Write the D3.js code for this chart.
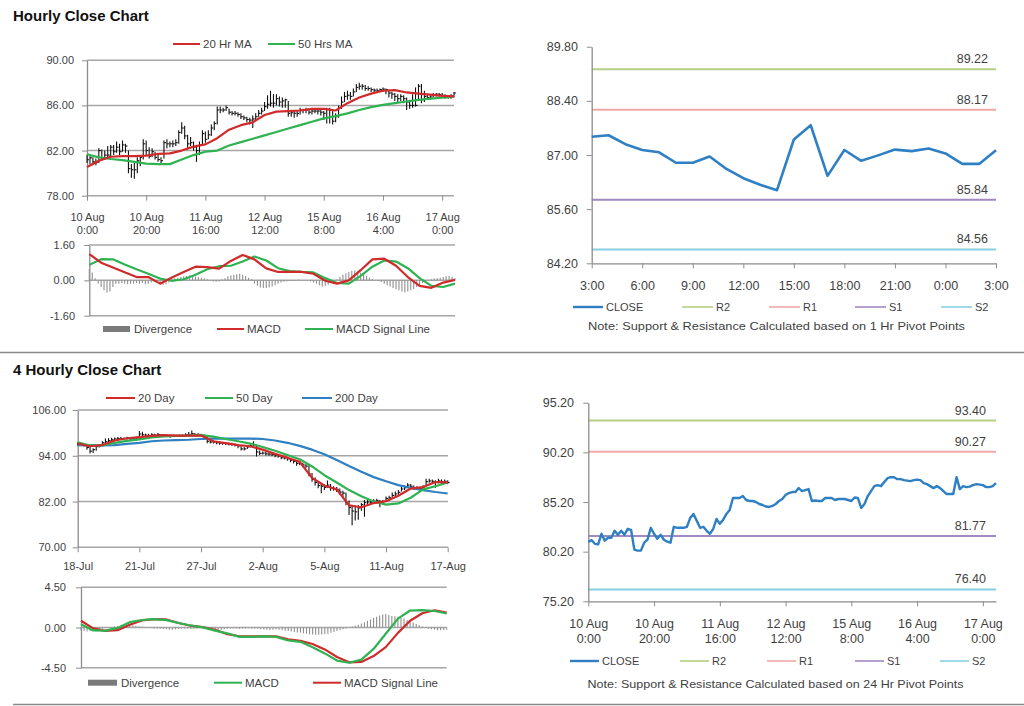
<!DOCTYPE html>
<html><head><meta charset="utf-8">
<script src="https://cdn.jsdelivr.net/npm/d3@7"></script>
<style>body{margin:0;background:#fff}svg{display:block;font-family:"Liberation Sans",Arial,sans-serif}</style>
</head><body><svg id="c" width="1024" height="706"></svg>
<script>
// ---------------- Hourly (10 Aug 0:00 -> 17 Aug 4:00) ----------------
const hourTicks = [0,20,40,60,80,100,120];
const hourTickLabels = [["10 Aug","0:00"],["10 Aug","20:00"],["11 Aug","16:00"],["12 Aug","12:00"],["15 Aug","8:00"],["16 Aug","4:00"],["17 Aug","0:00"]];
const hourClose = [81.19,81.36,81.0,80.93,82.0,81.3,81.6,81.6,82.3,81.9,
 82.3,81.9,82.5,82.4,80.4,80.3,80.3,81.1,81.4,82.6,
 82.0,81.5,81.9,81.4,81.2,81.1,82.7,82.6,82.6,82.6,
 82.7,83.6,84.0,83.3,82.6,82.7,82.3,82.0,82.5,83.5,
 83.0,83.4,84.0,84.4,85.6,85.6,85.6,85.8,85.4,85.3,
 85.3,85.2,85.0,84.9,84.75,84.7,84.8,85.0,85.3,85.5,
 85.9,86.1,86.2,86.2,86.6,86.3,86.4,86.5,85.3,85.35,
 85.3,85.3,85.6,85.6,85.6,85.4,85.5,85.5,85.5,85.4,
 85.3,85.65,85.6,84.6,85.0,85.8,86.3,86.8,86.9,86.8,
 87.2,87.6,87.7,87.7,87.5,87.5,87.4,87.35,87.3,87.4,
 87.45,87.4,87.1,87.0,86.8,86.6,86.8,86.6,86.3,86.0,
 86.0,86.0,87.7,86.5,86.8,86.7,86.75,86.9,87.0,86.95,
 86.9,86.7,86.7,86.8,87.1];
const hourHigh = [81.6,81.5,81.4,81.3,82.2,82.1,82.0,82.4,82.5,82.5,
 82.8,82.6,82.9,82.6,82.0,80.8,80.9,81.4,81.6,83.0,
 82.9,82.3,82.2,81.9,81.6,81.4,82.9,83.0,82.8,82.9,
 83.0,83.8,84.5,84.2,83.4,83.2,82.8,82.5,82.8,83.8,
 83.7,83.8,84.3,84.6,85.9,85.9,85.8,86.0,85.7,85.5,
 85.5,85.4,85.3,85.1,85.0,84.9,85.1,85.3,85.6,85.8,
 86.3,86.9,87.3,87.0,87.0,86.8,86.7,86.6,86.4,85.6,
 85.6,85.5,85.8,85.7,85.8,85.7,85.7,85.7,85.6,85.6,
 85.5,85.8,85.8,85.5,85.3,86.0,86.8,87.2,87.3,87.2,
 87.5,87.9,88.0,87.9,87.8,87.7,87.6,87.5,87.5,87.5,
 87.6,87.5,87.4,87.2,87.1,87.0,87.0,86.9,86.7,86.5,
 87.0,87.6,87.9,87.9,87.3,87.0,87.0,87.1,87.1,87.1,
 87.1,87.0,86.9,87.0,87.2];
const hourLow = [80.9,80.8,80.7,80.7,80.9,81.1,81.2,81.3,81.4,81.6,
 81.8,81.6,81.9,81.8,80.0,79.6,79.5,80.0,80.6,81.2,
 81.6,81.3,81.4,81.2,81.0,80.9,81.3,82.2,82.3,82.3,
 82.4,82.6,83.5,83.0,82.2,82.4,82.0,81.0,81.6,82.4,
 82.7,83.0,83.3,83.8,84.3,85.3,85.4,85.5,85.2,85.1,
 85.1,85.0,84.8,84.7,84.5,84.3,84.0,84.7,85.0,85.2,
 85.5,85.7,85.9,85.8,86.0,85.9,85.8,85.8,85.0,85.0,
 84.9,85.0,85.2,85.3,85.3,85.2,85.2,85.3,85.2,85.1,
 84.7,84.4,84.4,84.3,84.5,84.9,85.7,86.3,86.5,86.5,
 86.8,87.2,87.4,87.4,87.3,87.3,87.2,87.2,87.1,87.2,
 87.2,87.0,86.7,86.6,86.4,86.3,86.4,86.2,85.6,85.7,
 85.8,85.9,86.4,86.2,86.3,86.5,86.5,86.7,86.8,86.8,
 86.7,86.6,86.6,86.6,86.7];
const hourLineIdx = [0,4,8,12,16,20,24,28,32,36,40,44,48,52,56,60,64,68,72,76,80,84,88,92,96,100,104,108,112,116,120,124];
const hourMA20 = [80.55,81.1,81.45,81.5,81.5,81.55,81.7,81.75,82.0,82.35,82.55,83.1,83.85,84.25,84.5,85.15,85.45,85.5,85.55,85.7,85.7,85.55,86.2,86.7,87.05,87.3,87.35,87.15,87.05,86.95,86.85,86.8];
const hourMA50 = [81.67,81.4,81.25,81.15,81.0,80.85,80.8,80.8,81.2,81.6,81.9,82.0,82.45,82.75,83.05,83.35,83.65,83.95,84.25,84.55,84.85,85.05,85.3,85.6,85.85,86.05,86.2,86.35,86.5,86.6,86.7,86.8];
const hourMACD = [1.19,0.80,0.58,0.37,0.15,0.15,-0.15,0.13,0.38,0.62,0.60,0.53,0.88,1.15,0.95,0.54,0.38,0.38,0.38,0.30,-0.02,-0.15,0.00,0.46,0.95,0.98,0.66,0.15,-0.25,-0.34,-0.10,0.02];
const hourSignal = [0.70,0.96,0.95,0.72,0.50,0.30,0.08,-0.02,0.05,0.25,0.50,0.64,0.66,0.85,1.08,0.90,0.55,0.42,0.38,0.36,0.10,-0.12,-0.15,0.20,0.62,0.90,0.85,0.55,0.10,-0.25,-0.30,-0.15];
const hourDiv = [0.50,0.35,0.10,-0.15,-0.30, -0.45,-0.55,-0.50,-0.30,-0.15,
 -0.15,-0.12,-0.15,-0.18,-0.15, -0.15,-0.12,-0.15,-0.12,-0.18,
 -0.15,-0.10,-0.08,-0.12,-0.15, -0.20,-0.18,-0.10,0.05,0.10,
 0.12,0.15,0.18,0.20,0.22, 0.20,0.18,0.15,0.12,0.10,
 0.05,-0.03,-0.05,-0.06,-0.05, 0.05,0.10,0.18,0.22,0.25,
 0.28,0.30,0.25,0.20,0.12, 0.05,-0.15,-0.25,-0.32,-0.35,
 -0.35,-0.32,-0.28,-0.22,-0.15, -0.10,-0.06,-0.04,-0.03,-0.02,
 0.02,0.03,0.02,0.01,-0.02, -0.05,-0.10,-0.15,-0.22,-0.28,
 -0.25,-0.20,-0.12,-0.05,0.05, 0.15,0.25,0.32,0.38,0.42,
 0.45,0.40,0.35,0.28,0.20, 0.12,0.06,0.02,-0.02,-0.08,
 -0.15,-0.22,-0.28,-0.35,-0.40, -0.45,-0.50,-0.55,-0.50,-0.45,
 -0.40,-0.30,-0.22,-0.12,-0.05, 0.02,0.05,0.08,0.10,0.12,
 0.15,0.18,0.20,0.15,0.10];

// ---------------- 4 Hourly (18 Jul -> 17 Aug) ----------------
const h4Ticks = [0,20,40,60,80,100,120];
const h4TickLabels = ["18-Jul","21-Jul","27-Jul","2-Aug","5-Aug","11-Aug","17-Aug"];
const h4Close = [97.0,97.0,96.8,96.2,95.2,95.6,96.4,96.8,97.4,97.7,
 98.0,98.2,98.4,98.5,98.5,98.5,98.6,98.4,98.6,98.4,
 99.7,99.5,99.4,99.3,99.5,99.4,99.6,99.3,99.2,99.3,
 99.1,99.3,99.2,99.3,99.2,99.5,99.6,99.8,99.5,99.6,
 99.4,99.0,97.8,97.6,97.6,97.4,97.3,97.3,97.2,97.1,
 97.0,96.8,96.6,95.8,95.8,96.3,96.6,96.8,95.0,94.6,
 94.7,94.5,94.4,94.3,94.0,93.9,93.5,93.4,93.2,92.8,
 92.5,92.0,92.0,91.6,91.3,89.2,87.8,87.0,86.2,86.0,
 85.7,86.3,85.6,85.4,85.2,84.5,84.2,81.8,80.4,79.5,
 79.3,80.3,81.2,81.7,81.9,81.8,82.1,82.2,81.8,82.0,
 82.8,83.0,83.6,84.0,84.4,85.3,85.6,86.3,86.0,85.6,
 85.5,85.4,85.8,87.2,87.4,87.3,87.0,87.4,87.2,87.3,
 87.0];
const h4High = [97.5,97.3,97.2,96.9,96.3,96.0,96.6,97.0,97.8,98.5,
 98.6,98.7,98.8,98.9,98.9,98.8,99.0,98.8,98.9,98.8,
 100.5,100.3,99.8,99.8,99.9,99.8,100.0,99.7,99.6,99.6,
 99.5,99.6,99.5,99.6,99.6,99.9,100.2,100.6,100.0,99.9,
 99.8,99.6,99.0,98.0,98.0,97.8,97.7,97.6,97.5,97.4,
 97.4,97.2,97.0,96.7,96.3,96.6,97.0,97.8,96.9,95.4,
 95.1,95.0,94.8,94.7,94.5,94.3,94.0,93.8,93.6,93.3,
 93.0,92.7,92.5,92.2,91.8,91.5,89.5,88.3,87.2,86.8,
 86.4,87.5,86.6,86.0,85.8,85.4,84.8,84.4,82.3,80.8,
 80.6,81.0,81.6,82.4,82.5,82.3,82.6,82.7,82.4,82.4,
 83.3,83.5,84.4,84.6,85.0,86.0,86.2,86.8,86.6,86.2,
 86.0,85.9,86.3,88.0,88.0,87.8,87.6,88.0,87.8,87.8,
 87.6];
const h4Low = [96.6,96.6,96.4,95.6,94.6,94.7,95.3,96.2,96.7,97.2,
 97.6,97.9,98.0,98.1,98.2,98.2,98.2,98.0,98.2,98.0,
 98.3,99.1,99.0,99.0,99.1,99.0,99.2,99.0,98.9,98.9,
 98.7,98.9,98.9,98.9,98.9,99.1,99.2,99.3,99.1,99.2,
 99.0,98.5,97.3,97.2,97.2,97.0,96.9,96.9,96.8,96.7,
 96.6,96.4,96.0,95.4,95.4,95.8,96.2,96.4,93.8,94.2,
 94.3,94.1,94.0,93.9,93.6,93.5,93.1,93.0,92.7,92.3,
 92.0,91.4,91.5,91.0,90.8,88.6,87.2,86.2,85.5,84.2,
 85.0,85.6,84.8,84.8,84.5,83.8,83.2,81.0,78.5,75.8,
 77.0,77.2,79.6,78.0,81.2,81.3,81.6,81.7,80.5,81.5,
 82.0,82.5,83.0,83.4,83.8,84.6,85.0,85.6,85.5,85.1,
 85.0,84.9,85.2,86.0,86.9,86.8,85.6,86.8,86.6,86.8,
 86.5];
const h4LineIdx = [0,4,8,12,16,20,24,28,32,36,40,44,48,52,56,60,64,68,72,76,80,84,88,92,96,100,104,108,112,116,120];
const h4MA20 = [97.2,96.5,96.8,98.0,98.6,98.9,99.2,99.4,99.3,99.3,99.3,97.8,97.3,96.8,96.5,95.6,94.5,93.5,92.4,88.2,86.2,85.2,81.0,80.5,81.6,82.1,83.5,85.4,85.8,87.1,87.0];
const h4MA50 = [97.5,96.7,96.7,97.4,97.9,98.3,98.8,99.1,99.2,99.3,99.4,99.0,98.4,97.8,97.2,96.3,95.3,94.2,93.1,91.2,88.9,87.0,85.0,83.4,82.0,81.2,81.5,83.0,85.2,86.0,87.0];
const h4MA200 = [96.8,96.7,96.7,96.8,97.1,97.4,97.8,98.0,98.1,98.2,98.4,98.5,98.5,98.5,98.5,98.4,98.0,97.4,96.6,95.6,94.4,92.9,91.3,89.8,88.4,87.3,86.3,85.6,85.0,84.5,84.1];
const h4MACD = [0.37,-0.33,-0.35,-0.05,0.60,0.84,0.93,0.82,0.50,0.22,0.02,-0.35,-0.65,-1.05,-1.05,-1.0,-1.05,-1.45,-1.60,-2.2,-2.9,-3.7,-3.95,-3.6,-2.4,-0.7,1.0,1.9,1.95,1.85,1.57];
const h4Signal = [0.75,-0.10,-0.37,-0.30,0.30,0.80,0.93,0.90,0.50,0.20,0.05,-0.25,-0.75,-0.98,-1.0,-1.0,-1.0,-1.32,-1.50,-1.85,-2.45,-3.3,-3.9,-3.85,-3.2,-2.2,-0.6,0.75,1.6,1.93,1.68];
const h4Div = [-0.35,-0.40,-0.45,-0.40,-0.35,-0.30,-0.25,-0.15,-0.05,0.0,
 0.05,0.10,0.15,0.20,0.25,0.30,0.30,0.25,0.20,0.15,
 0.10,0.05,0.0,-0.05,-0.10,-0.12,-0.15,-0.18,-0.20,-0.25,
 -0.25,-0.20,-0.15,-0.10,-0.10,-0.12,-0.15,-0.12,-0.10,-0.08,
 -0.05,-0.10,-0.20,-0.30,-0.35,-0.30,-0.25,-0.20,-0.15,-0.10,
 -0.08,-0.10,-0.15,-0.12,-0.10,-0.08,-0.10,-0.12,-0.15,-0.20,
 -0.22,-0.25,-0.28,-0.25,-0.20,-0.25,-0.30,-0.35,-0.40,-0.45,
 -0.50,-0.55,-0.60,-0.65,-0.70,-0.75,-0.78,-0.80,-0.80,-0.78,
 -0.75,-0.70,-0.60,-0.50,-0.40,-0.30,-0.20,-0.10,0.0,0.10,
 0.20,0.30,0.45,0.60,0.75,0.90,1.05,1.20,1.35,1.45,
 1.50,1.40,1.30,1.25,1.20,1.10,1.00,0.85,0.70,0.55,
 0.40,0.25,0.10,-0.05,-0.15,-0.20,-0.25,-0.30,-0.30,-0.28,
 -0.25];

// ---------------- 1 Hr pivot chart (3:00 -> 3:00) ----------------
const pivotHours = ["3:00","4:00","5:00","6:00","7:00","8:00","9:00","10:00","11:00","12:00","13:00","14:00","15:00","16:00","17:00","18:00","19:00","20:00","21:00","22:00","23:00","0:00","1:00","2:00","3:00"];
const pivotClose = [87.47,87.51,87.28,87.13,87.07,86.80,86.80,86.96,86.64,86.40,86.23,86.09,87.40,87.77,86.46,87.13,86.85,86.99,87.14,87.10,87.17,87.04,86.77,86.77,87.12];
const levelNames = ["R2","R1","S1","S2"];
const levels1h = [89.22,88.17,85.84,84.56];
const levels24h = [93.40,90.27,81.77,76.40];

// ---------------- drawing ----------------
const svg = d3.select("#c");
const GRID = "#a6a6a6", AXIS = "#8c8c8c", TXT = "#3f3f3f";
const RED = "#d02a2a", GREEN = "#2fb352", BLUE = "#2f7fc3";
const levelColors = ["#b4cf85","#efa9a7","#a189c2","#88cfe2"];
const fmt2 = d => d.toFixed(2);

function yAxis(g, y, xLeft, ticks, labelRight, fs) {
  const a = g.append("g").attr("transform", `translate(${xLeft},0)`)
    .call(d3.axisLeft(y).tickValues(ticks).tickSize(5).tickSizeOuter(0)
      .tickPadding(xLeft - labelRight - 5).tickFormat(fmt2));
  a.select(".domain").attr("stroke", AXIS).attr("stroke-width", 1.3);
  a.selectAll(".tick line").attr("stroke", AXIS);
  a.selectAll(".tick text").attr("fill", TXT).attr("font-size", fs).attr("font-family", "Liberation Sans, Arial, sans-serif");
}
function grid(g, y, ticks, x0, x1) {
  g.append("g").selectAll("line").data(ticks).join("line")
    .attr("x1", x0).attr("x2", x1).attr("y1", d => y(d)).attr("y2", d => y(d))
    .attr("stroke", GRID).attr("stroke-width", 1.5);
}
function xAxis(g, x, yPos, ticks, labels, fs, lineGap, firstDy, domain) {
  const a = g.append("g").attr("transform", `translate(0,${yPos})`)
    .call(d3.axisBottom(x).tickValues(ticks).tickSize(5).tickSizeOuter(0).tickFormat(""));
  a.select(".domain").attr("stroke", domain ? AXIS : "none").attr("stroke-width", 1.3);
  a.selectAll(".tick line").attr("stroke", AXIS);
  a.selectAll(".tick text").remove();
  a.selectAll(".tick").each(function(d, i) {
    const t = d3.select(this).append("text").attr("text-anchor", "middle")
      .attr("fill", TXT).attr("font-size", fs).attr("font-family", "Liberation Sans, Arial, sans-serif");
    const lines = Array.isArray(labels[i]) ? labels[i] : [labels[i]];
    lines.forEach((s, k) => t.append("tspan").attr("x", 0).attr("y", firstDy + k * lineGap).text(s));
  });
}
function legendLine(g, x, y, w, color, text, fs, sw) {
  g.append("line").attr("x1", x).attr("x2", x + w).attr("y1", y).attr("y2", y)
    .attr("stroke", color).attr("stroke-width", sw || 2);
  g.append("text").attr("x", x + w + 3).attr("y", y + fs * 0.36).attr("font-size", fs)
    .attr("fill", TXT).text(text);
}
function legendRect(g, x, y, w, text, fs) {
  g.append("rect").attr("x", x).attr("y", y - 3).attr("width", w).attr("height", 6).attr("fill", "#7a7a7a");
  g.append("text").attr("x", x + w + 4).attr("y", y + fs * 0.36).attr("font-size", fs)
    .attr("fill", TXT).text(text);
}
function ohlc(g, x, y, hi, lo, cl) {
  const b = g.append("g").attr("stroke", "#111").attr("stroke-width", 1.1);
  b.selectAll("line.v").data(cl).join("line").attr("class", "v")
    .attr("x1", (d, i) => x(i)).attr("x2", (d, i) => x(i))
    .attr("y1", (d, i) => y(hi[i])).attr("y2", (d, i) => y(lo[i]));
  b.selectAll("line.c").data(cl).join("line").attr("class", "c")
    .attr("x1", (d, i) => x(i)).attr("x2", (d, i) => x(i) + 2)
    .attr("y1", d => y(d)).attr("y2", d => y(d));
}
function seriesLine(g, x, y, idx, vals, color, w) {
  g.append("path").datum(idx.map((k, i) => [k, vals[i]]))
    .attr("fill", "none").attr("stroke", color).attr("stroke-width", w || 2.2)
    .attr("stroke-linejoin", "round")
    .attr("d", d3.line().x(d => x(d[0])).y(d => y(d[1])));
}
function divBars(g, x, y, vals) {
  g.append("g").selectAll("line").data(vals).join("line")
    .attr("x1", (d, i) => x(i)).attr("x2", (d, i) => x(i))
    .attr("y1", y(0)).attr("y2", d => y(d))
    .attr("stroke", "#8f8f8f").attr("stroke-width", 1.1);
}

// Titles
svg.append("text").attr("x", 13).attr("y", 21).attr("font-size", 15).attr("font-weight", "bold")
  .attr("fill", "#111").text("Hourly Close Chart");
svg.append("text").attr("x", 13).attr("y", 375).attr("font-size", 15).attr("font-weight", "bold")
  .attr("fill", "#111").text("4 Hourly Close Chart");
// separators
svg.append("line").attr("x1", 0).attr("x2", 1024).attr("y1", 352.5).attr("y2", 352.5).attr("stroke", "#8a8a8a").attr("stroke-width", 1.5);
svg.append("line").attr("x1", 13).attr("x2", 1024).attr("y1", 704.5).attr("y2", 704.5).attr("stroke", "#8a8a8a").attr("stroke-width", 1.5);

// ===== Panel A: hourly price =====
{
  const g = svg.append("g");
  const x = d3.scaleLinear().domain([0, 124]).range([87, 454]);
  const y = d3.scaleLinear().domain([78, 90]).range([195.7, 60.3]);
  const yt = [78, 82, 86, 90];
  grid(g, y, yt, 87, 454);
  yAxis(g, y, 87, yt, 74, 11);
  xAxis(g, x, 195.7, hourTicks, hourTickLabels, 11, 13, 25, false);
  ohlc(g, x, y, hourHigh, hourLow, hourClose);
  seriesLine(g, x, y, hourLineIdx, hourMA50, GREEN, 2.2);
  seriesLine(g, x, y, hourLineIdx, hourMA20, RED, 2.2);
  legendLine(g, 173, 44, 27, RED, "20 Hr MA", 11.5);
  legendLine(g, 268, 44, 27, GREEN, "50 Hrs MA", 11.5);
}
// ===== Panel B: hourly MACD =====
{
  const g = svg.append("g");
  const x = d3.scaleLinear().domain([0, 124]).range([89.3, 455]);
  const y = d3.scaleLinear().domain([-1.6, 1.6]).range([315.7, 245]);
  const yt = [-1.6, 0, 1.6];
  grid(g, y, yt, 89.3, 455);
  yAxis(g, y, 89.3, yt, 75, 11);
  divBars(g, x, y, hourDiv);
  seriesLine(g, x, y, hourLineIdx, hourSignal, GREEN, 2.2);
  seriesLine(g, x, y, hourLineIdx, hourMACD, RED, 2.2);
  legendRect(g, 103, 329, 27, "Divergence", 11.5);
  legendLine(g, 217, 329, 27, RED, "MACD", 11.5);
  legendLine(g, 305, 329, 28, GREEN, "MACD  Signal Line", 11.5);
}
// ===== Panel C: 1 Hr pivot =====
{
  const g = svg.append("g");
  const x = d3.scaleLinear().domain([0, 24]).range([591.7, 996]);
  const y = d3.scaleLinear().domain([84.2, 89.8]).range([263.3, 46.7]);
  const yt = [84.2, 85.6, 87.0, 88.4, 89.8];
  levels1h.forEach((v, i) => {
    g.append("line").attr("x1", 591.7).attr("x2", 996).attr("y1", y(v)).attr("y2", y(v))
      .attr("stroke", levelColors[i]).attr("stroke-width", 2);
    g.append("text").attr("x", 988).attr("y", y(v) - 6).attr("text-anchor", "end")
      .attr("font-size", 12.5).attr("fill", TXT).text(v.toFixed(2));
  });
  yAxis(g, y, 591.7, yt, 578, 12.5);
  xAxis(g, x, 263.3, d3.range(0, 25, 3), d3.range(0, 25, 3).map(i => pivotHours[i]), 12.5, 14, 27, true);
  seriesLine(g, x, y, d3.range(25), pivotClose, BLUE, 2.6);
  legendLine(g, 573, 307, 30, BLUE, "CLOSE", 11, 2.4);
  levelNames.forEach((n, i) => legendLine(g, [682, 769, 855, 941][i], 307, 31, levelColors[i], n, 11, 1.6));
  g.append("text").attr("x", 588).attr("y", 330).attr("font-size", 11.5).attr("fill", TXT)
    .attr("textLength", 377).attr("lengthAdjust", "spacingAndGlyphs")
    .text("Note: Support & Resistance Calculated based on 1 Hr Pivot Points");
}
// ===== Panel D: 4 hourly price =====
{
  const g = svg.append("g");
  const x = d3.scaleLinear().domain([0, 120]).range([77.7, 447.7]);
  const y = d3.scaleLinear().domain([70, 106]).range([547.3, 410]);
  const yt = [70, 82, 94, 106];
  grid(g, y, yt, 77.7, 448);
  yAxis(g, y, 77.7, yt, 66, 11);
  xAxis(g, x, 547.3, h4Ticks, h4TickLabels, 11, 13, 23, false);
  ohlc(g, x, y, h4High, h4Low, h4Close);
  seriesLine(g, x, y, h4LineIdx, h4MA200, BLUE, 2.2);
  seriesLine(g, x, y, h4LineIdx, h4MA50, GREEN, 2.2);
  seriesLine(g, x, y, h4LineIdx, h4MA20, RED, 2.2);
  legendLine(g, 106, 398, 29, RED, "20 Day", 11.5);
  legendLine(g, 205, 398, 28, GREEN, "50 Day", 11.5);
  legendLine(g, 302, 398, 30, BLUE, "200 Day", 11.5);
}
// ===== Panel E: 4 hourly MACD =====
{
  const g = svg.append("g");
  const x = d3.scaleLinear().domain([0, 120]).range([81, 446.7]);
  const y = d3.scaleLinear().domain([-4.5, 4.5]).range([667.7, 587.3]);
  const yt = [-4.5, 0, 4.5];
  grid(g, y, yt, 81, 446.7);
  yAxis(g, y, 81, yt, 66, 11);
  divBars(g, x, y, h4Div);
  seriesLine(g, x, y, h4LineIdx, h4Signal, RED, 2.2);
  seriesLine(g, x, y, h4LineIdx, h4MACD, GREEN, 2.2);
  legendRect(g, 88, 682.7, 29, "Divergence", 11.5);
  legendLine(g, 214, 682.7, 28, GREEN, "MACD", 11.5);
  legendLine(g, 313, 682.7, 28, RED, "MACD  Signal Line", 11.5);
}
// ===== Panel F: 24 Hr pivot =====
{
  const g = svg.append("g");
  const x = d3.scaleLinear().domain([0, 124]).range([588.3, 996]);
  const y = d3.scaleLinear().domain([75.2, 95.2]).range([601.3, 402.7]);
  const yt = [75.2, 80.2, 85.2, 90.2, 95.2];
  levels24h.forEach((v, i) => {
    g.append("line").attr("x1", 588.3).attr("x2", 996).attr("y1", y(v)).attr("y2", y(v))
      .attr("stroke", levelColors[i]).attr("stroke-width", 2);
    g.append("text").attr("x", 986).attr("y", y(v) - 6).attr("text-anchor", "end")
      .attr("font-size", 12.5).attr("fill", TXT).text(v.toFixed(2));
  });
  yAxis(g, y, 588.3, yt, 574, 12.5);
  xAxis(g, x, 601.3, hourTicks, hourTickLabels, 12.5, 14.5, 27, true);
  seriesLine(g, x, y, d3.range(125), hourClose, BLUE, 2.4);
  legendLine(g, 570, 661, 29, BLUE, "CLOSE", 11, 2.4);
  levelNames.forEach((n, i) => legendLine(g, [680, 767, 855, 940][i], 661, 29, levelColors[i], n, 11, 1.6));
  g.append("text").attr("x", 587.5).attr("y", 688).attr("font-size", 11.5).attr("fill", TXT)
    .attr("textLength", 376).attr("lengthAdjust", "spacingAndGlyphs")
    .text("Note:  Support & Resistance Calculated based on 24 Hr Pivot Points");
}
</script></body></html>
